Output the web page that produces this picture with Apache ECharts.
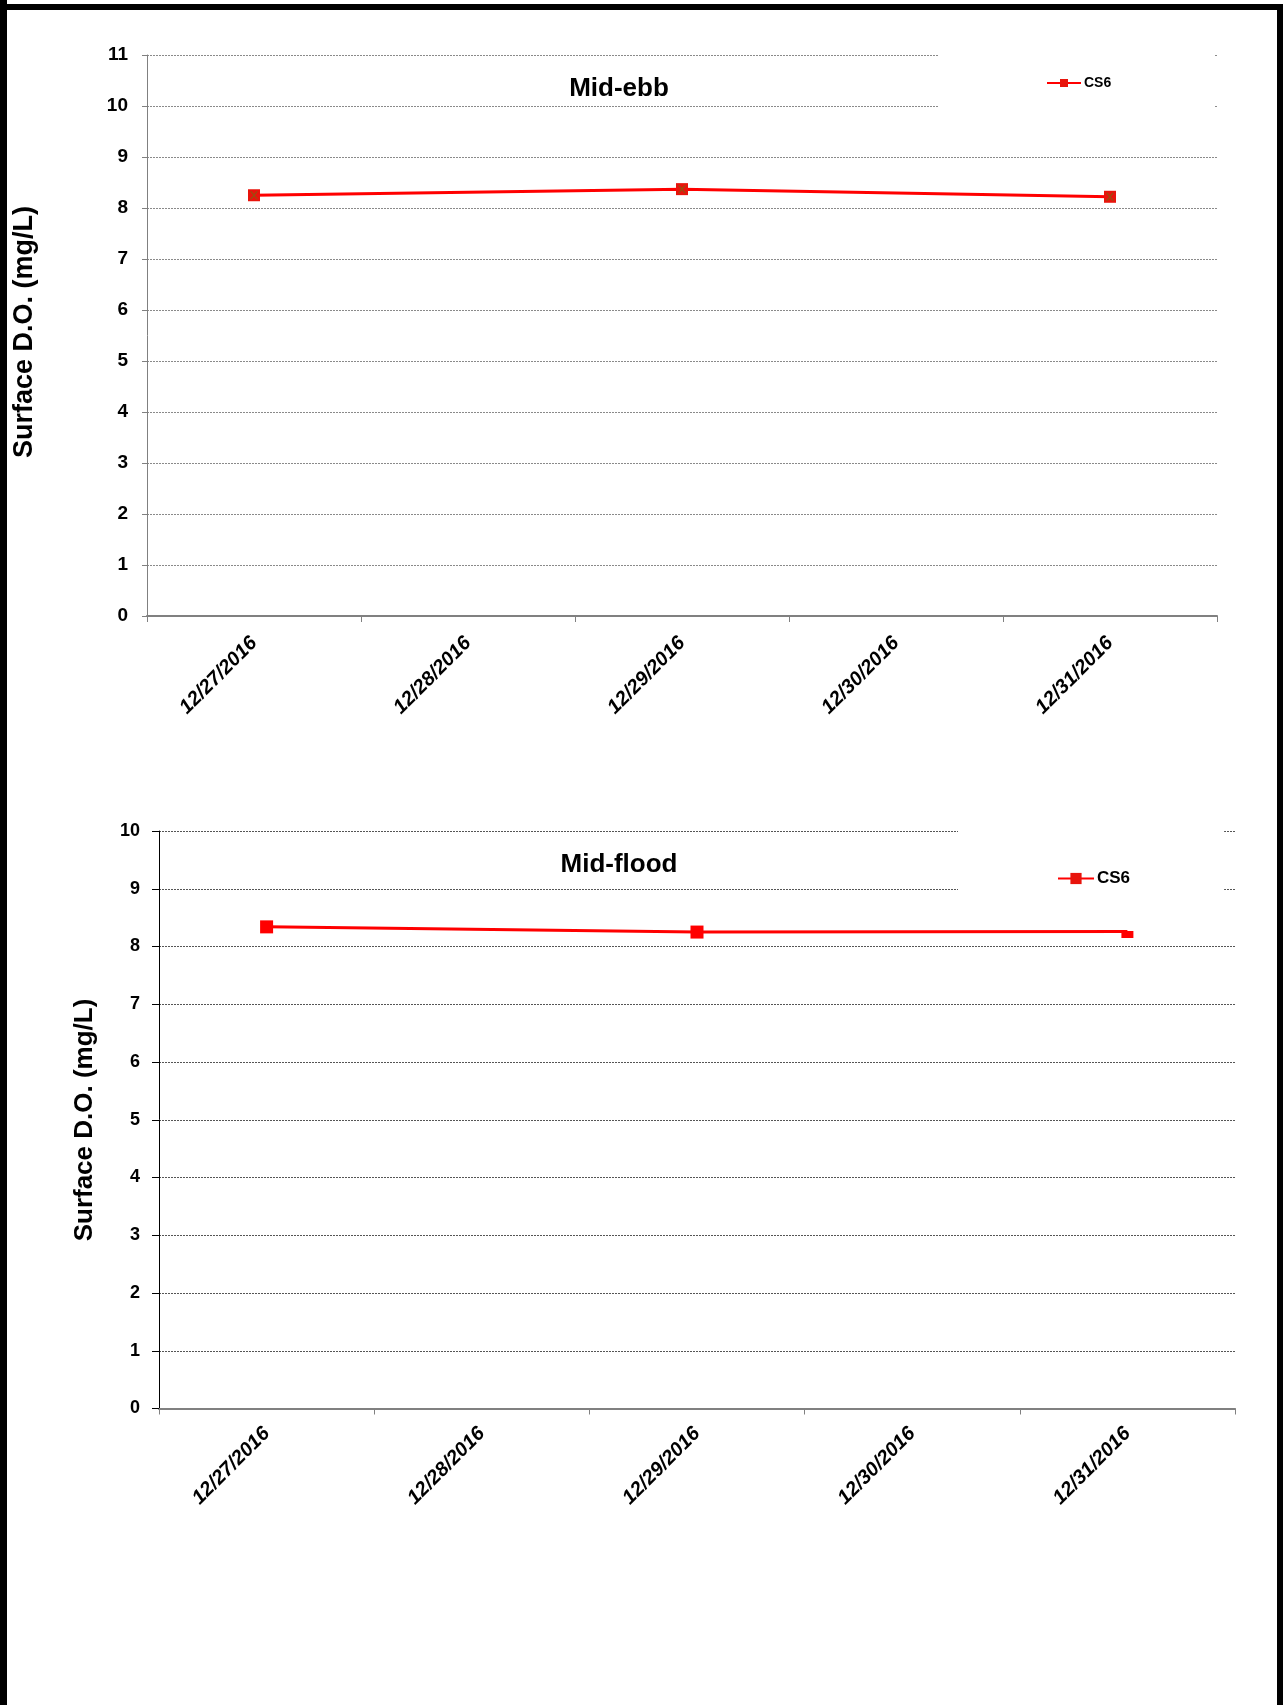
<!DOCTYPE html>
<html>
<head>
<meta charset="utf-8">
<title>Surface D.O. – CS6</title>
<script src="https://cdn.jsdelivr.net/npm/echarts@6/dist/echarts.min.js"></script>
<style>
  html, body { margin: 0; padding: 0; background: #fff; }
  #chart { width: 1283px; height: 1705px; }
</style>
</head>
<body>
<div id="chart"></div>
<script>
// Survey dates (category axis, shared by both panels)
const dates = ['12/27/2016', '12/28/2016', '12/29/2016', '12/30/2016', '12/31/2016'];

// Surface dissolved oxygen at station CS6, mg/L (no sampling on 12/28 and 12/30)
const midEbbCS6 = [8.25, null, 8.37, null, 8.22];
const midFloodCS6 = [8.34, null, 8.25, null, 8.26];

// Panel titles and axis label
const panelTitles = ['Mid-ebb', 'Mid-flood'];
const yAxisTitle = 'Surface D.O. (mg/L)';
const seriesName = 'CS6';

const FONT = '"Liberation Sans", Arial, sans-serif';
const chart = echarts.init(document.getElementById('chart'), null, { renderer: 'canvas' });

// Thin "X" drawn on top of the square markers of the upper panel
const crossPath = 'path://M0,0L2,0L5,3.6L8,0L10,0L6,5L10,10L8,10L5,6.4L2,10L0,10L4,5Z';

function xAxisCfg(gridIndex, margin) {
  return {
    type: 'category',
    gridIndex,
    data: dates,
    boundaryGap: true,
    axisLine: { show: true, lineStyle: { color: '#808080', width: 2 } },
    axisTick: { show: true, alignWithLabel: false, length: 6, lineStyle: { color: '#808080', width: 1 } },
    axisLabel: {
      rotate: 45, margin, interval: 0,
      color: '#000', fontFamily: FONT, fontWeight: 'bold', fontStyle: 'italic', fontSize: 20
    },
    splitLine: { show: false }
  };
}

function yAxisCfg(gridIndex, max, axisColor, gridColor, tickLen, fontSize) {
  return {
    type: 'value',
    gridIndex,
    min: 0, max, interval: 1,
    axisLine: { show: true, lineStyle: { color: axisColor, width: 1 } },
    axisTick: { show: true, length: tickLen, lineStyle: { color: axisColor } },
    axisLabel: { margin: 19, color: '#000', fontFamily: FONT, fontWeight: 'bold', fontSize },
    splitLine: { show: true, lineStyle: { color: gridColor, width: 1, type: [2, 1] } }
  };
}

const option = {
  backgroundColor: '#fff',
  animation: false,
  grid: [
    { left: 147, top: 55, width: 1070, height: 561 },
    { left: 159, top: 831, width: 1076, height: 577.5 }
  ],
  xAxis: [xAxisCfg(0, 24), xAxisCfg(1, 22)],
  yAxis: [
    yAxisCfg(0, 11, '#808080', '#8a8a8a', 5, 19),
    yAxisCfg(1, 10, '#000', '#555', 7, 18)
  ],
  legend: [
    {
      data: [seriesName],
      left: 938, top: 50,
      padding: [26, 103, 20, 108],
      backgroundColor: '#fff',
      itemWidth: 34, itemHeight: 10, itemGap: 0,
      textStyle: { color: '#000', fontFamily: FONT, fontWeight: 'bold', fontSize: 14, padding: [0, 0, 0, -2] },
      selectedMode: false
    },
    {
      data: [seriesName],
      left: 958, top: 826,
      padding: [44, 94, 4, 99],
      backgroundColor: '#fff',
      itemWidth: 36, itemHeight: 14, itemGap: 0,
      textStyle: { color: '#000', fontFamily: FONT, fontWeight: 'bold', fontSize: 17, padding: [0, 0, 0, -2] },
      selectedMode: false
    }
  ],
  series: [
    {
      name: seriesName,
      type: 'line',
      xAxisIndex: 0, yAxisIndex: 0,
      data: midEbbCS6,
      connectNulls: true,
      symbol: 'rect', symbolSize: 12,
      lineStyle: { color: '#ff0000', width: 3 },
      itemStyle: { color: '#e8140c' },
      z: 3
    },
    {
      name: seriesName + ' marker',
      type: 'scatter',
      xAxisIndex: 0, yAxisIndex: 0,
      data: midEbbCS6,
      symbol: crossPath, symbolSize: 8,
      itemStyle: { color: '#8a5a10', opacity: 0.85 },
      silent: true,
      z: 4
    },
    {
      name: seriesName,
      type: 'line',
      xAxisIndex: 1, yAxisIndex: 1,
      data: midFloodCS6.map((v, i) => (i === 4 && v != null)
        ? { value: v, symbolSize: [12, 7], symbolOffset: [0, 3] }
        : v),
      connectNulls: true,
      symbol: 'rect', symbolSize: 13,
      lineStyle: { color: '#ff0000', width: 3 },
      itemStyle: { color: '#ff0000' },
      z: 3
    }
  ],
  graphic: [
    // panel titles
    { type: 'text', x: 619, y: 89, z: 10,
      style: { text: panelTitles[0], fill: '#000', font: 'bold 26px ' + FONT, textAlign: 'center', textVerticalAlign: 'middle' } },
    { type: 'text', x: 619, y: 865, z: 10,
      style: { text: panelTitles[1], fill: '#000', font: 'bold 26px ' + FONT, textAlign: 'center', textVerticalAlign: 'middle' } },
    // vertical axis titles
    { type: 'text', x: 25, y: 332, rotation: Math.PI / 2, z: 10,
      style: { text: yAxisTitle, fill: '#000', font: 'bold 27px ' + FONT, textAlign: 'center', textVerticalAlign: 'middle' } },
    { type: 'text', x: 85, y: 1120, rotation: Math.PI / 2, z: 10,
      style: { text: yAxisTitle, fill: '#000', font: 'bold 26px ' + FONT, textAlign: 'center', textVerticalAlign: 'middle' } },
    // page frame
    { type: 'rect', shape: { x: 0, y: 0, width: 7, height: 1705 }, style: { fill: '#000' }, z: 20 },
    { type: 'rect', shape: { x: 0, y: 4, width: 1283, height: 6 }, style: { fill: '#000' }, z: 20 },
    { type: 'rect', shape: { x: 1277, y: 4, width: 6, height: 1701 }, style: { fill: '#000' }, z: 20 }
  ]
};

chart.setOption(option);
</script>
</body>
</html>
